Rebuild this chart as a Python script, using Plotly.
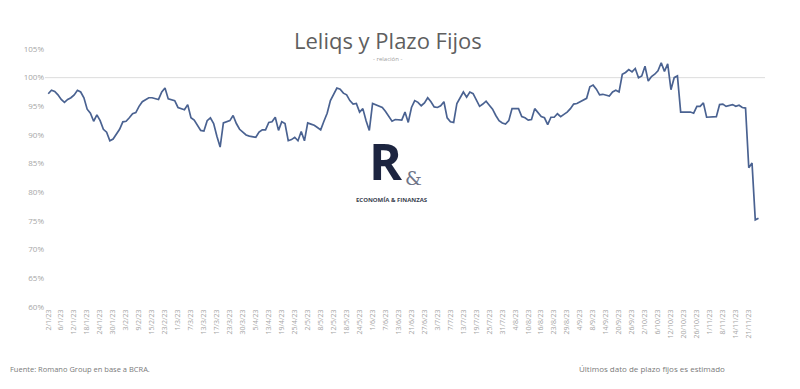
import plotly.graph_objects as go

tick_labels = ["2/1/23","6/1/23","12/1/23","18/1/23","24/1/23","30/1/23","3/2/23","9/2/23","15/2/23","23/2/23",
               "1/3/23","7/3/23","13/3/23","17/3/23","23/3/23","30/3/23","5/4/23","13/4/23","19/4/23","25/4/23",
               "2/5/23","8/5/23","12/5/23","18/5/23","24/5/23","1/6/23","7/6/23","13/6/23","21/6/23","27/6/23",
               "3/7/23","7/7/23","13/7/23","19/7/23","25/7/23","31/7/23","4/8/23","10/8/23","16/8/23","23/8/23",
               "29/8/23","4/9/23","8/9/23","14/9/23","20/9/23","26/9/23","2/10/23","6/10/23","12/10/23","20/10/23",
               "26/10/23","1/11/23","8/11/23","14/11/23","21/11/23"]

ratio_pct = [
    97.2, 97.8, 97.6, 97.0, 96.2, 95.7, 96.2, 96.5, 97.0, 97.8,
    97.5, 96.5, 94.5, 93.8, 92.4, 93.5, 92.5, 91.0, 90.5, 89.0,
    89.3, 90.1, 91.0, 92.3, 92.4, 93.0, 93.7, 93.9, 95.0, 95.8,
    96.2, 96.5, 96.5, 96.4, 96.2, 97.5, 98.2, 96.3, 96.1, 96.0,
    94.8, 94.6, 94.4, 95.3, 93.0, 92.6, 91.8, 90.8, 90.7, 92.5,
    93.0, 92.0, 89.8, 87.9, 92.1, 92.3, 92.5, 93.4, 92.0, 91.0,
    90.5, 90.0, 89.8, 89.7, 89.6, 90.5, 90.9, 90.9, 92.2, 92.3,
    93.1, 90.8, 92.3, 92.0, 89.0, 89.2, 89.6, 89.0, 90.6, 89.0,
    92.1, 91.9, 91.7, 91.3, 90.9, 92.4, 93.8, 96.0, 97.0, 98.2,
    98.0, 97.3, 97.0, 96.0, 95.4, 95.5, 94.0, 94.6, 92.5, 90.8,
    95.5, 95.3, 95.0, 94.8, 94.1, 93.3, 92.4, 92.7, 92.7, 92.6,
    94.0, 92.2, 94.8, 96.0, 95.7, 95.1, 95.6, 96.5, 95.8, 94.9,
    94.8, 95.1, 95.8, 93.0, 92.3, 92.2, 95.5, 96.6, 97.5, 96.6,
    97.5, 97.2, 96.2, 95.0, 95.4, 95.9, 95.2, 94.5, 93.4, 92.5,
    92.1, 91.9, 92.5, 94.6, 94.6, 94.6, 93.2, 93.0, 92.6, 92.7,
    94.6, 93.8, 93.2, 93.0, 91.8, 93.1, 93.1, 93.7, 93.2, 93.6,
    94.0, 94.6, 95.4, 95.5, 95.8, 96.0, 96.4, 98.4, 98.7, 98.0,
    97.0, 97.1, 96.9, 96.8, 97.5, 97.8, 97.5, 100.6, 100.9, 101.4,
    101.0, 101.6, 100.0, 100.3, 102.0, 99.4, 100.2, 100.6, 101.2, 102.6,
    101.1, 102.4, 97.9, 100.0, 100.3, 94.0, 94.0, 94.0, 94.0, 93.8,
    95.0, 95.0, 95.6, 93.1, 93.1, 93.1, 93.2, 95.3, 95.4, 95.0,
    95.2, 95.3, 95.0, 95.2, 94.8, 94.7, 84.3, 85.1, 75.2, 75.5,
]

tick_step = 4
y_ticks = [0.60, 0.65, 0.70, 0.75, 0.80, 0.85, 0.90, 0.95, 1.00, 1.05]

x_idx = list(range(len(ratio_pct)))
y_vals = [v / 100 for v in ratio_pct]
tick_pos = [i * tick_step for i in range(len(tick_labels))]

fig = go.Figure()
fig.add_trace(go.Scatter(x=x_idx, y=y_vals, mode="lines",
                         line=dict(color="#4a6291", width=1.7), hoverinfo="skip"))

fig.add_hline(y=1.0, line=dict(color="#dcdcdc", width=1), layer="below")

fig.update_layout(
    width=792, height=381,
    margin=dict(l=37, r=35, t=41, b=82),
    paper_bgcolor="white", plot_bgcolor="white",
    showlegend=False,
    font=dict(family="Open Sans, sans-serif", color="#9a9a9a"),
    xaxis=dict(tickmode="array", tickvals=tick_pos, ticktext=tick_labels,
               tickangle=-90, tickfont=dict(size=7, color="#a6a6a6"),
               showgrid=False, zeroline=False, showline=False, ticks="",
               range=[-1, 221]),
    yaxis=dict(tickmode="array", tickvals=y_ticks, tickformat=".0%",
               range=[0.60, 1.05], tickfont=dict(size=8, color="#a6a6a6"),
               showgrid=False, zeroline=False, showline=False, ticks=""),
)

fig.add_annotation(text="Leliqs y Plazo Fijos", xref="paper", yref="paper",
                   x=0.476, y=1.0, yshift=9, xanchor="center", yanchor="middle", showarrow=False,
                   font=dict(size=22, color="#5f5f5f", family="Open Sans, sans-serif"))
fig.add_annotation(text="- relación -", xref="paper", yref="paper",
                   x=0.476, y=1.0, yshift=-10, xanchor="center", yanchor="middle", showarrow=False,
                   font=dict(size=6, color="#a0a0a0"))

# logo
fig.add_annotation(text="<b>R</b>", xref="paper", yref="paper", x=0.474, y=0.565,
                   xanchor="center", yanchor="middle", showarrow=False,
                   font=dict(size=50, color="#1d2540", family="Open Sans, sans-serif"))
fig.add_annotation(text="&", xref="paper", yref="paper", x=0.512, y=0.5,
                   xanchor="center", yanchor="middle", showarrow=False,
                   font=dict(size=19, color="#6e7488", family="DejaVu Serif, serif"))
fig.add_annotation(text="<b>ECONOMÍA & FINANZAS</b>", xref="paper", yref="paper", x=0.482, y=0.415,
                   xanchor="center", yanchor="middle", showarrow=False,
                   font=dict(size=6, color="#3a3f50"))

# footer
fig.add_annotation(text="Fuente: Romano Group en base a BCRA.", xref="paper", yref="paper",
                   x=-0.051, y=-0.24, xanchor="left", yanchor="middle", showarrow=False,
                   font=dict(size=7.5, color="#7a7a7a"))
fig.add_annotation(text="Últimos dato de plazo fijos es estimado", xref="paper", yref="paper",
                   x=0.947, y=-0.24, xanchor="right", yanchor="middle", showarrow=False,
                   font=dict(size=8, color="#7a7a7a"))

fig.write_html("out.html")
